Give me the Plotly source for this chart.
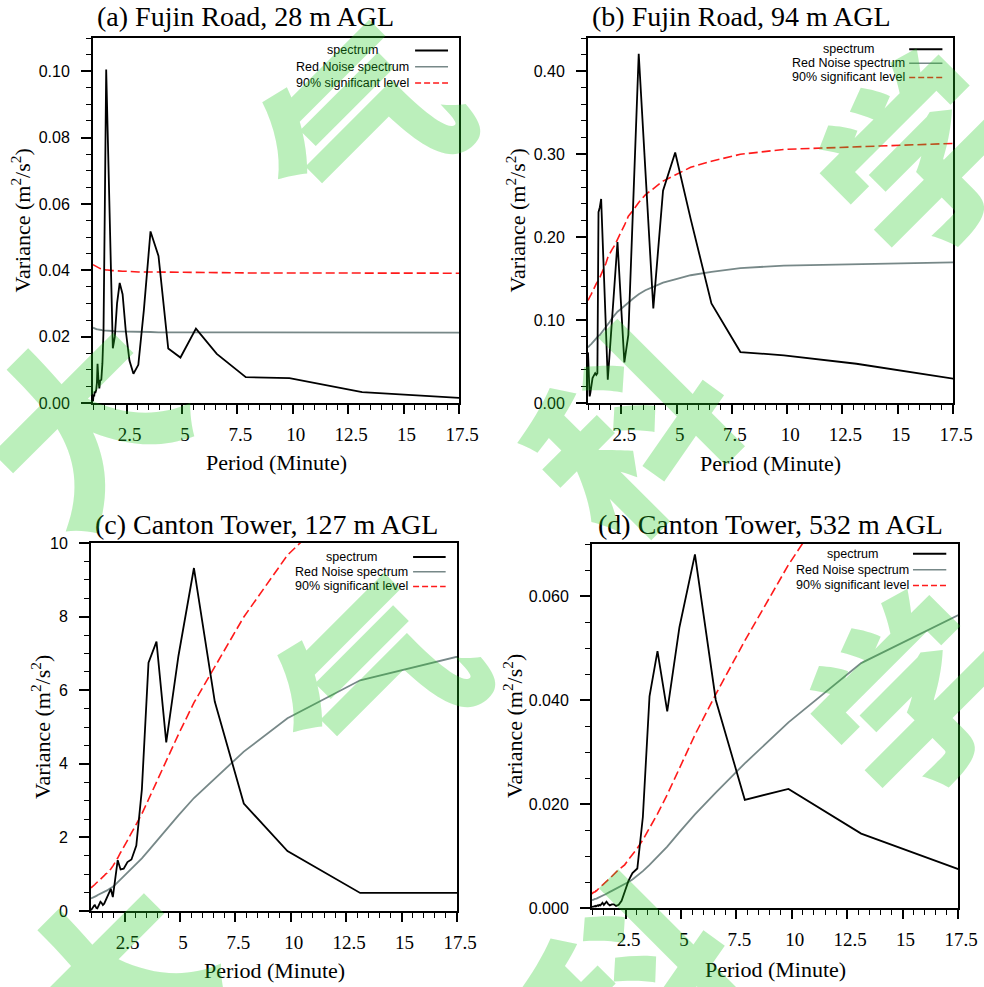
import plotly.graph_objects as go

# Period grid (minutes)
periods = [0.985, 1.01, 1.04, 1.06, 1.09, 1.13, 1.16, 1.19, 1.23, 1.27, 1.31, 1.36, 1.41, 1.46,
           1.52, 1.58, 1.64, 1.71, 1.79, 1.88, 1.97, 2.07, 2.19, 2.32, 2.46, 2.63, 2.81, 3.03,
           3.28, 3.58, 3.94, 4.38, 4.93, 5.63, 6.57, 7.88, 9.85, 13.13, 19.70]

# (a) Fujin Road 28 m
spec_a = [0.0005, 0.0025, 0.0020, 0.0035, 0.0030, 0.0040, 0.0060, 0.0118, 0.0070, 0.0044, 0.0068,
          0.0070, 0.0120, 0.0220, 0.0600, 0.1005, 0.0837, 0.0640, 0.0420, 0.0165, 0.0200, 0.0300,
          0.0362, 0.0328, 0.0220, 0.0128, 0.0088, 0.0115, 0.0280, 0.0517, 0.0443, 0.0164, 0.0137,
          0.0224, 0.0148, 0.0078, 0.0075, 0.0033, 0.0007]
rn_a = [0.0227, 0.0226, 0.0225, 0.0224, 0.0224, 0.0223, 0.0222, 0.0222, 0.0221, 0.0221, 0.0220,
        0.0220, 0.0219, 0.0219, 0.0219, 0.0218, 0.0218, 0.0217, 0.0217, 0.0217, 0.0216, 0.0216,
        0.0216, 0.0215, 0.0215, 0.0215, 0.0214, 0.0214, 0.0214, 0.0214, 0.0213, 0.0213, 0.0213,
        0.0213, 0.0212, 0.0212, 0.0212, 0.0212, 0.0212]
sig_a = [0.0417, 0.0416, 0.0414, 0.0413, 0.0412, 0.0410, 0.0409, 0.0408, 0.0407, 0.0406, 0.0405,
         0.0404, 0.0403, 0.0403, 0.0402, 0.0401, 0.0401, 0.0400, 0.0400, 0.0399, 0.0399, 0.0398,
         0.0398, 0.0397, 0.0397, 0.0396, 0.0396, 0.0395, 0.0395, 0.0395, 0.0394, 0.0394, 0.0394,
         0.0393, 0.0393, 0.0392, 0.0392, 0.0392, 0.0391]

# (b) Fujin Road 94 m
spec_b = [0.061, 0.045, 0.020, 0.008, 0.012, 0.022, 0.028, 0.030, 0.032, 0.035, 0.036, 0.034,
          0.036, 0.230, 0.236, 0.246, 0.203, 0.152, 0.094, 0.028, 0.062, 0.100, 0.145, 0.194,
          0.128, 0.049, 0.082, 0.241, 0.421, 0.281, 0.114, 0.256, 0.302, 0.222, 0.120, 0.0614,
          0.0574, 0.0473, 0.0202]
rn_b = [0.067, 0.068, 0.068, 0.069, 0.070, 0.071, 0.072, 0.073, 0.074, 0.075, 0.077, 0.078,
        0.079, 0.081, 0.082, 0.084, 0.086, 0.088, 0.091, 0.095, 0.098, 0.102, 0.106, 0.110,
        0.113, 0.117, 0.122, 0.126, 0.131, 0.136, 0.140, 0.145, 0.149, 0.154, 0.158, 0.1625,
        0.1657, 0.1677, 0.1707]
sig_b = [0.1236, 0.1255, 0.1255, 0.1273, 0.1292, 0.1310, 0.1328, 0.1347, 0.1365, 0.1384, 0.1421,
         0.1439, 0.1458, 0.1494, 0.1513, 0.1550, 0.1587, 0.1624, 0.1679, 0.1753, 0.1808, 0.1850,
         0.1900, 0.1980, 0.2050, 0.2140, 0.2251, 0.2325, 0.2417, 0.2509, 0.2583, 0.2675, 0.2749,
         0.2841, 0.2915, 0.2998, 0.3057, 0.3094, 0.3150]

# (c) Canton Tower 127 m
spec_c = [0.02, 0.05, 0.08, 0.10, 0.12, 0.15, 0.16, 0.12, 0.08, 0.07, 0.12, 0.18, 0.25, 0.22,
          0.16, 0.20, 0.28, 0.35, 0.47, 0.60, 0.38, 0.85, 1.38, 1.13, 1.15, 1.33, 1.40, 1.78,
          3.30, 6.75, 7.32, 4.58, 6.93, 9.32, 5.69, 2.92, 1.63, 0.49, 0.49]
rn_c = [0.34, 0.345, 0.355, 0.36, 0.37, 0.38, 0.39, 0.40, 0.41, 0.43, 0.44, 0.45, 0.47, 0.48,
        0.50, 0.52, 0.54, 0.56, 0.59, 0.62, 0.66, 0.71, 0.78, 0.86, 0.94, 1.04, 1.15, 1.28,
        1.43, 1.64, 1.90, 2.22, 2.60, 3.07, 3.60, 4.33, 5.24, 6.27, 7.23]
sig_c = [0.63, 0.64, 0.655, 0.665, 0.68, 0.70, 0.72, 0.74, 0.76, 0.79, 0.81, 0.83, 0.87, 0.89,
         0.92, 0.96, 1.00, 1.03, 1.09, 1.14, 1.22, 1.31, 1.44, 1.59, 1.73, 1.92, 2.12, 2.36,
         2.64, 3.03, 3.51, 4.10, 4.80, 5.66, 6.64, 7.99, 9.67, 11.57, 13.34]

# (d) Canton Tower 532 m
spec_d = [0.0002, 0.0002, 0.0003, 0.0002, 0.0003, 0.0004, 0.0003, 0.0004, 0.0005, 0.0004, 0.0006,
          0.0005, 0.0008, 0.0010, 0.0006, 0.0009, 0.0012, 0.0008, 0.0005, 0.0007, 0.0007, 0.0004,
          0.0006, 0.0014, 0.0032, 0.0052, 0.0067, 0.0076, 0.0175, 0.0407, 0.0494, 0.0378, 0.0540,
          0.0680, 0.0400, 0.0208, 0.0229, 0.0143, 0.0041]
rn_d = [0.0015, 0.0015, 0.0016, 0.0016, 0.0017, 0.0017, 0.0018, 0.0018, 0.0019, 0.0020, 0.0021,
        0.0022, 0.0023, 0.0024, 0.0025, 0.0026, 0.0027, 0.0029, 0.0031, 0.0033, 0.0035, 0.0037,
        0.0040, 0.0042, 0.0045, 0.0050, 0.0055, 0.0062, 0.0071, 0.0083, 0.0098, 0.0118, 0.0146,
        0.0180, 0.0222, 0.0278, 0.0357, 0.0471, 0.0609]
sig_d = [0.0028, 0.0028, 0.0030, 0.0030, 0.0031, 0.0031, 0.0033, 0.0033, 0.0035, 0.0037, 0.0039,
         0.0041, 0.0043, 0.0044, 0.0046, 0.0048, 0.0050, 0.0054, 0.0057, 0.0061, 0.0065, 0.0068,
         0.0074, 0.0078, 0.0083, 0.0093, 0.0102, 0.0115, 0.0131, 0.0154, 0.0181, 0.0218, 0.0270,
         0.0333, 0.0411, 0.0514, 0.0660, 0.0871, 0.1127]

titles = ["(a) Fujin Road, 28 m AGL", "(b) Fujin Road, 94 m AGL",
          "(c) Canton Tower, 127 m AGL", "(d) Canton Tower, 532 m AGL"]
legend_labels = ["spectrum", "Red Noise spectrum", "90% significant level"]
x_title = "Period (Minute)"
y_title = "Variance (m<sup>2</sup>/s<sup>2</sup>)"

W, H = 984, 987
SERIF = "Liberation Serif"
SANS = "Liberation Sans"
BLACK = "#000000"
GREY = "#778888"
RED = "#ff1a1a"

# panel geometry in pixels: (left, right, top, bottom)
boxes = [(93, 459, 38, 403), (588, 953, 38, 403), (91, 457, 543, 911), (592, 958, 544, 908)]
yranges = [(0, 0.11), (0, 0.44), (0, 10), (0, 0.07)]
ydticks = [0.02, 0.10, 2, 0.02]
yminor = [0.005, 0.02, 0.5, 0.005]
yformats = [".2f", ".2f", "d", ".3f"]
title_pos = [(245, 17), (741, 17), (266, 524), (770, 524)]
ytitle_x = [21, 516, 41, 513]
xtitle_y = [463, 464, 970, 969]
leg_rows = [(0.966, 0.921, 0.877), (0.969, 0.931, 0.892), (0.962, 0.922, 0.882), (0.973, 0.929, 0.886)]
leg_textx = [0.71, 0.713, 0.712, 0.711]
leg_line = [(0.880, 0.970), (0.880, 0.971), (0.880, 0.969), (0.877, 0.968)]

series = [(spec_a, rn_a, sig_a), (spec_b, rn_b, sig_b), (spec_c, rn_c, sig_c), (spec_d, rn_d, sig_d)]

fig = go.Figure()
annotations = []
shapes = []
layout = dict(width=W, height=H, margin=dict(l=0, r=0, t=0, b=0, autoexpand=False),
              paper_bgcolor="white", plot_bgcolor="white", showlegend=False)

for i in range(4):
    sfx = "" if i == 0 else str(i + 1)
    xa, ya = "x" + sfx, "y" + sfx
    spec, rn, sig = series[i]
    fig.add_trace(go.Scatter(x=periods, y=rn, mode="lines", xaxis=xa, yaxis=ya,
                             line=dict(color=GREY, width=1.8), name=legend_labels[1]))
    fig.add_trace(go.Scatter(x=periods, y=sig, mode="lines", xaxis=xa, yaxis=ya,
                             line=dict(color=RED, width=1.6, dash="9px,4px"), name=legend_labels[2]))
    fig.add_trace(go.Scatter(x=periods, y=spec, mode="lines", xaxis=xa, yaxis=ya,
                             line=dict(color=BLACK, width=1.8), name=legend_labels[0]))

    l, r, t, b = boxes[i]
    xdom = [l / W, r / W]
    ydom = [1 - b / H, 1 - t / H]
    layout["xaxis" + sfx] = dict(
        domain=xdom, anchor=ya, range=[periods[0], 17.5], automargin=False,
        tick0=0, dtick=2.5, ticks="outside", ticklen=9, tickwidth=1.5, tickcolor=BLACK,
        minor=dict(dtick=0.5, tick0=0, ticks="outside", ticklen=5, tickwidth=1.2, tickcolor=BLACK),
        showline=True, linecolor=BLACK, linewidth=2, mirror=True, showgrid=False, zeroline=False,
        tickfont=dict(family=SERIF, size=19, color=BLACK), ticklabelstandoff=4, ticklabelshift=3)
    layout["yaxis" + sfx] = dict(
        domain=ydom, anchor=xa, range=list(yranges[i]), automargin=False,
        tick0=0, dtick=ydticks[i], tickformat=yformats[i],
        ticks="outside", ticklen=10, tickwidth=1.5, tickcolor=BLACK,
        minor=dict(dtick=yminor[i], tick0=0, ticks="outside", ticklen=5, tickwidth=1.2, tickcolor=BLACK),
        showline=True, linecolor=BLACK, linewidth=2, mirror=True, showgrid=False, zeroline=False,
        tickfont=dict(family=SANS, size=16, color=BLACK), ticklabelstandoff=8)

    # panel title
    tx, ty = title_pos[i]
    annotations.append(dict(text=titles[i], x=tx / W, y=1 - ty / H, xref="paper", yref="paper",
                            xanchor="center", yanchor="middle", showarrow=False,
                            font=dict(family=SERIF, size=28, color=BLACK)))
    # axis titles
    annotations.append(dict(text=y_title, x=ytitle_x[i] / W, y=1 - ((t + b) / 2) / H,
                            xref="paper", yref="paper", xanchor="center", yanchor="middle",
                            textangle=-90, showarrow=False,
                            font=dict(family=SERIF, size=22, color=BLACK)))
    annotations.append(dict(text=x_title, x=((l + r) / 2) / W, y=1 - xtitle_y[i] / H,
                            xref="paper", yref="paper", xanchor="center", yanchor="middle",
                            showarrow=False, font=dict(family=SERIF, size=22, color=BLACK)))
    # legend (text left, line sample right)
    styles = [dict(color=BLACK, width=2), dict(color=GREY, width=1.5),
              dict(color=RED, width=1.5, dash="6px,3px")]
    for j in range(3):
        yy = leg_rows[i][j]
        annotations.append(dict(text=legend_labels[j], x=leg_textx[i], y=yy,
                                xref=xa + " domain", yref=ya + " domain",
                                xanchor="center", yanchor="middle", showarrow=False,
                                font=dict(family=SANS, size=12.5, color=BLACK)))
        shapes.append(dict(type="line", xref=xa + " domain", yref=ya + " domain",
                           x0=leg_line[i][0], x1=leg_line[i][1], y0=yy, y1=yy, line=styles[j]))

# watermark characters (semi-transparent green)
wm = [("大", 75, 415), ("气", 355, 122), ("科", 625, 425), ("学", 915, 150),
      ("大", 105, 975), ("气", 370, 675), ("科", 625, 975), ("学", 905, 690)]
for ch, cx, cy in wm:
    annotations.append(dict(text=ch, x=cx / W, y=1 - cy / H, xref="paper", yref="paper",
                            xanchor="center", yanchor="middle", showarrow=False, textangle=-45,
                            opacity=0.3,
                            font=dict(family="Noto Sans CJK SC", size=190, color="#22cc22",
                                      weight=900)))

layout["annotations"] = annotations
layout["shapes"] = shapes
fig.update_layout(**layout)
fig.write_html("out.html")
